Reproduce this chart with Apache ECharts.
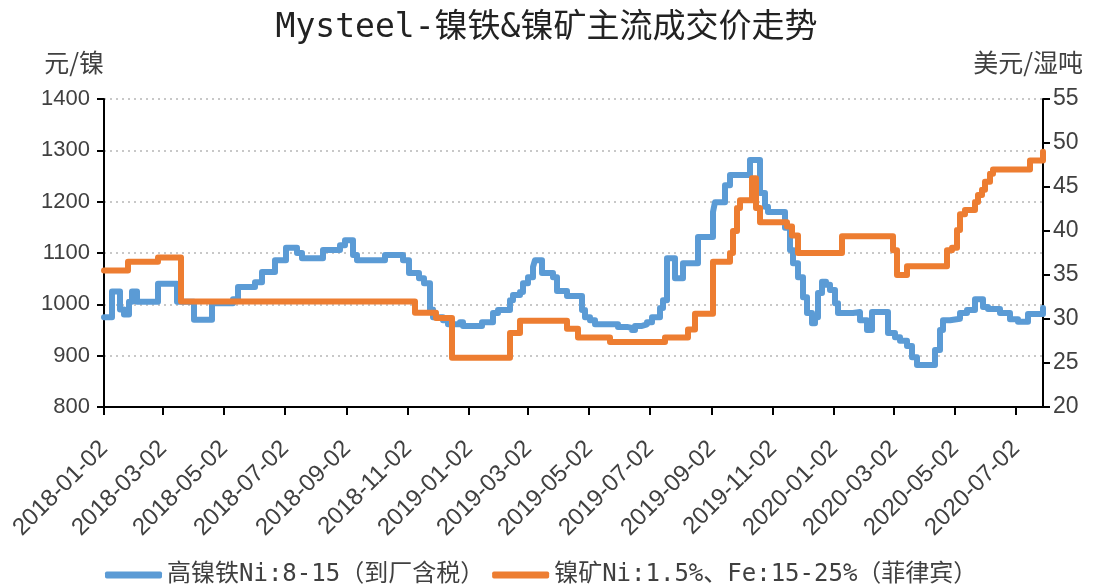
<!DOCTYPE html>
<html lang="zh">
<head>
    <meta charset="UTF-8">
    <title>Mysteel-镍铁&镍矿主流成交价走势</title>
    <script src="https://cdn.jsdelivr.net/npm/echarts@6/dist/echarts.min.js"></script>
    <style>
        html, body { margin: 0; padding: 0; background: #fff; }
    </style>
</head>
<body>
<div id="chart" style="width: 1093px;height:588px;"></div>
<script>
    // tick labels on the date axis
    const tickDates = ['2018-01-02', '2018-03-02', '2018-05-02', '2018-07-02', '2018-09-02', '2018-11-02',
        '2019-01-02', '2019-03-02', '2019-05-02', '2019-07-02', '2019-09-02', '2019-11-02',
        '2020-01-02', '2020-03-02', '2020-05-02', '2020-07-02'];

    // 高镍铁 - dates where the price changes, and the new price (元/镍)
    const ferroDates = ['2018-01-02', '2018-01-10', '2018-01-18', '2018-01-22', '2018-01-27', '2018-01-30',
        '2018-02-04', '2018-02-25', '2018-03-16', '2018-04-02', '2018-04-20', '2018-05-11', '2018-05-16',
        '2018-06-02', '2018-06-09', '2018-06-22', '2018-07-03', '2018-07-14', '2018-07-19', '2018-08-09',
        '2018-08-26', '2018-08-31', '2018-09-08', '2018-09-12', '2018-10-10', '2018-10-28', '2018-11-03',
        '2018-11-13', '2018-11-18', '2018-11-24', '2018-11-27', '2018-12-07', '2018-12-12', '2018-12-24',
        '2018-12-27', '2019-01-15', '2019-01-26', '2019-01-31', '2019-02-12', '2019-02-15', '2019-02-22',
        '2019-02-25', '2019-03-02', '2019-03-07', '2019-03-09', '2019-03-16', '2019-03-27', '2019-03-31',
        '2019-04-10', '2019-04-25', '2019-04-28', '2019-05-03', '2019-05-08', '2019-05-31', '2019-06-09',
        '2019-06-14', '2019-06-17', '2019-06-24', '2019-06-29', '2019-07-04', '2019-07-12', '2019-07-15',
        '2019-07-19', '2019-07-27', '2019-08-04', '2019-08-19', '2019-09-03', '2019-09-05', '2019-09-15',
        '2019-09-20', '2019-10-10', '2019-10-20', '2019-10-25', '2019-10-28', '2019-11-14', '2019-11-19',
        '2019-11-22', '2019-11-27', '2019-12-02', '2019-12-06', '2019-12-11', '2019-12-14', '2019-12-17',
        '2019-12-21', '2019-12-25', '2019-12-29', '2020-01-03', '2020-01-06', '2020-01-21', '2020-01-28',
        '2020-02-04', '2020-02-09', '2020-02-25', '2020-03-03', '2020-03-08', '2020-03-15', '2020-03-20',
        '2020-03-25', '2020-04-12', '2020-04-17', '2020-04-20', '2020-04-27', '2020-05-07', '2020-05-14',
        '2020-05-22', '2020-05-30', '2020-06-04', '2020-06-16', '2020-06-26', '2020-07-04', '2020-07-14',
        '2020-07-29'];
    const ferroPrices = [975, 1025, 990, 980, 1005, 1025,
        1005, 1040, 1005, 970, 1002, 1010, 1034,
        1043, 1063, 1086, 1110, 1100, 1090, 1106,
        1115, 1125, 1096, 1086, 1096, 1086, 1061,
        1051, 1041, 990, 975, 969, 961, 965,
        958, 965, 983, 989, 1008, 1018, 1024,
        1041, 1053, 1073, 1086, 1061, 1053, 1026,
        1016, 989, 975, 969, 961, 956, 954,
        950, 958, 961, 965, 975, 993, 1008,
        1090, 1051, 1080, 1131, 1180, 1199, 1232,
        1252, 1281, 1217, 1190, 1180, 1149, 1106,
        1080, 1053, 1014, 983, 963, 975, 1022,
        1044, 1038, 1028, 1002, 983, 985, 969,
        950, 985, 944, 936, 929, 919, 897,
        882, 911, 950, 969, 972, 983, 989,
        1010, 995, 991, 983, 971, 966, 981,
        993];

    // 镍矿 - dates where the price changes, and the new price (美元/湿吨)
    const oreDates = ['2018-01-02', '2018-01-26', '2018-02-25', '2018-03-20', '2018-11-09', '2018-11-30',
        '2018-12-16', '2019-02-12', '2019-02-22', '2019-04-10', '2019-04-21', '2019-05-23', '2019-07-17',
        '2019-08-09', '2019-08-16', '2019-09-03', '2019-09-20', '2019-09-23', '2019-09-27', '2019-09-30',
        '2019-10-12', '2019-10-16', '2019-10-20', '2019-11-16', '2019-11-21', '2019-11-27', '2020-01-10',
        '2020-03-01', '2020-03-05', '2020-03-15', '2020-04-24', '2020-04-29', '2020-05-04', '2020-05-07',
        '2020-05-12', '2020-05-22', '2020-05-25', '2020-05-29', '2020-06-01', '2020-06-06', '2020-06-09',
        '2020-07-16', '2020-07-29'];
    const orePrices = [35.5, 36.5, 37, 32, 30.7, 30.1,
        25.6, 28.4, 29.8, 28.9, 27.9, 27.4, 27.9,
        28.8, 30.6, 36.5, 37.5, 40, 42.6, 43.5,
        46, 42.6, 41, 40.5, 39.5, 37.5, 39.4,
        37.8, 35, 36, 37.8, 38.1, 40.1, 41.9,
        42.4, 43.3, 44.1, 44.7, 45.6, 46.5, 47,
        48, 49];

    const toTime = s => +new Date(s + 'T00:00:00');
    const pair = (dates, vals) => dates.map((d, i) => [toTime(d), vals[i]]);
    const tickTimes = tickDates.map(toTime);

    const textColor = '#404040';
    const cjkFont = "'DejaVu Sans Mono', 'Noto Sans CJK SC'";
    const numFont = "'Liberation Sans', Arial";
    const chart = echarts.init(document.getElementById('chart'));
    chart.setOption({
        animation: false,
        title: {
            text: 'Mysteel-镍铁&镍矿主流成交价走势',
            left: 'center',
            top: 7,
            textStyle: {
                fontFamily: cjkFont,
                fontSize: 33,
                fontWeight: 'normal',
                color: '#222'
            }
        },
        legend: {
            left: 100,
            top: 558,
            itemWidth: 57,
            itemHeight: 7,
            itemGap: 8,
            icon: 'roundRect',
            textStyle: {
                fontFamily: cjkFont,
                fontSize: 24,
                color: textColor
            }
        },
        grid: {
            left: 104,
            right: 50,
            top: 99,
            bottom: 181
        },
        xAxis: {
            type: 'value',
            min: toTime('2018-01-02'),
            max: toTime('2020-07-29'),
            axisLine: {lineStyle: {color: '#000', width: 2}},
            axisTick: {
                show: true,
                length: 8,
                customValues: tickTimes,
                lineStyle: {color: '#000', width: 2}
            },
            axisLabel: {
                customValues: tickTimes,
                rotate: 45,
                margin: 38,
                fontFamily: numFont,
                fontSize: 24,
                color: textColor,
                formatter: v => echarts.time.format(v, '{yyyy}-{MM}-{dd}', false)
            },
            splitLine: {show: false}
        },
        yAxis: [{
            type: 'value',
            min: 800,
            max: 1400,
            interval: 100,
            name: '元/镍',
            nameGap: 24,
            nameTextStyle: {
                align: 'right',
                fontFamily: "'Noto Sans CJK SC'",
                fontSize: 25,
                color: textColor
            },
            axisLine: {show: true, lineStyle: {color: '#000', width: 2}},
            axisTick: {show: true, length: 7, lineStyle: {color: '#000', width: 2}},
            axisLabel: {
                margin: 14,
                fontFamily: numFont,
                fontSize: 22,
                color: textColor,
                formatter: v => String(v)
            },
            splitLine: {lineStyle: {color: '#c8c8c8', type: [2, 4], width: 2}}
        }, {
            type: 'value',
            min: 20,
            max: 55,
            interval: 5,
            name: '美元/湿吨',
            nameGap: 24,
            nameTextStyle: {
                align: 'right',
                padding: [0, -40, 0, 0],
                fontFamily: "'Noto Sans CJK SC'",
                fontSize: 25,
                color: textColor
            },
            axisLine: {show: true, lineStyle: {color: '#000', width: 2}},
            axisTick: {show: true, length: 7, lineStyle: {color: '#000', width: 2}},
            axisLabel: {
                margin: 10,
                fontFamily: numFont,
                fontSize: 23,
                color: textColor
            },
            splitLine: {show: false}
        }],
        series: [{
            name: '高镍铁Ni:8-15（到厂含税）',
            type: 'line',
            step: 'end',
            yAxisIndex: 0,
            showSymbol: false,
            color: '#5B9BD5',
            lineStyle: {width: 6, cap: 'round', join: 'round'},
            data: pair(ferroDates, ferroPrices)
        }, {
            name: '镍矿Ni:1.5%、Fe:15-25%（菲律宾）',
            type: 'line',
            step: 'end',
            yAxisIndex: 1,
            showSymbol: false,
            color: '#ED7D31',
            lineStyle: {width: 6, cap: 'round', join: 'round'},
            data: pair(oreDates, orePrices)
        }]
    });
</script>
</body>
</html>
